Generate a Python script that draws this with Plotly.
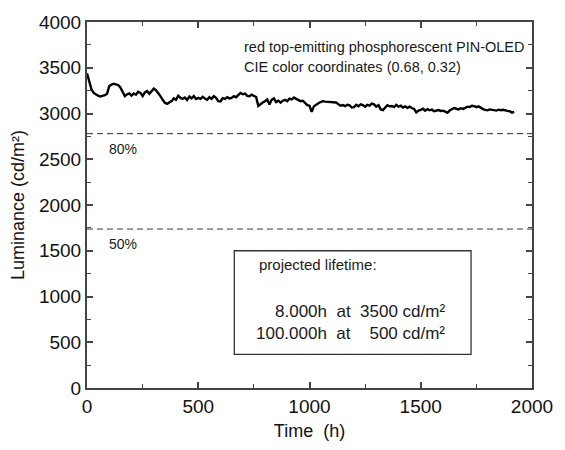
import plotly.graph_objects as go

# sampling times (h), one reading every 10 h
time_h = list(range(0, 1930, 10))
luminance = [
    3440, 3335, 3265, 3225, 3205, 3195, 3185, 3192, 3200, 3215,
    3300, 3315, 3325, 3318, 3310, 3285, 3240, 3190, 3210, 3220,
    3195, 3218, 3205, 3238, 3225, 3190, 3230, 3245, 3215, 3250,
    3272, 3255, 3228, 3190, 3150, 3118, 3106, 3122, 3135, 3165,
    3150, 3195, 3170, 3160, 3175, 3148, 3185, 3165, 3190, 3158,
    3170, 3160, 3182, 3165, 3150, 3178, 3160, 3190, 3170, 3135,
    3132, 3168, 3160, 3178, 3165, 3170, 3190, 3178, 3200, 3225,
    3210, 3218, 3192, 3188, 3205, 3195, 3180, 3082, 3105, 3120,
    3135, 3155, 3098, 3150, 3165, 3125, 3140, 3118, 3140, 3150,
    3135, 3162, 3155, 3175, 3160, 3148, 3135, 3140, 3110, 3092,
    3085, 3018, 3080, 3100, 3112, 3125, 3135, 3130, 3128, 3120,
    3125, 3115, 3120, 3100, 3085, 3092, 3080, 3095, 3090, 3065,
    3070, 3095, 3080, 3100, 3092, 3075, 3095, 3085, 3108, 3100,
    3075, 3090, 3045, 3038, 3065, 3090, 3078, 3082, 3070, 3095,
    3075, 3085, 3065, 3078, 3062, 3075, 3060, 3050, 3012, 3032,
    3040, 3052, 3030, 3048, 3035, 3042, 3025, 3030, 3038, 3028,
    3030, 3020, 3008, 3032, 3048, 3060, 3052, 3045, 3058, 3050,
    3062, 3075, 3070, 3085, 3080, 3070, 3078, 3060, 3048, 3040,
    3035, 3045, 3040, 3038, 3032, 3042, 3036, 3040, 3030, 3028,
    3025, 3010, 3018,
]

level_80 = 2780
level_50 = 1737
level_labels = ["80%", "50%"]
x_ticks = [0, 500, 1000, 1500, 2000]
y_ticks = [0, 500, 1000, 1500, 2000, 2500, 3000, 3500, 4000]

FONT = "Liberation Sans, Arial, sans-serif"
TXT = "#1a1a1a"
NB = "\u00a0"

fig = go.Figure()
fig.add_trace(go.Scatter(x=time_h, y=luminance, mode="lines",
                         line=dict(color="black", width=2.4), showlegend=False))

for lv in (level_80, level_50):
    fig.add_shape(type="line", xref="paper", x0=0, x1=1, yref="y", y0=lv, y1=lv,
                  line=dict(color="#333", width=1, dash="6px,4px"))

for lv, lab in zip((level_80, level_50), level_labels):
    fig.add_annotation(x=0.046, xref="paper", y=lv, yref="y", yshift=-15, text=lab,
                       showarrow=False, xanchor="left", yanchor="middle",
                       font=dict(size=14, color=TXT, family=FONT))

fig.add_annotation(x=0.349, xref="paper", y=0.932, yref="paper",
                   text="red top-emitting phosphorescent PIN-OLED",
                   showarrow=False, xanchor="left", yanchor="middle",
                   font=dict(size=14.5, color=TXT, family=FONT))
fig.add_annotation(x=0.349, xref="paper", y=0.878, yref="paper",
                   text="CIE color coordinates (0.68, 0.32)",
                   showarrow=False, xanchor="left", yanchor="middle",
                   font=dict(size=14.5, color=TXT, family=FONT))

# lifetime box
fig.add_shape(type="rect", xref="x", yref="y", x0=662, x1=1726, y0=368, y1=1500,
              line=dict(color="#333", width=1.3), fillcolor="white")
fig.add_annotation(x=0.382, xref="paper", y=0.338, yref="paper", text="projected lifetime:",
                   showarrow=False, xanchor="left", yanchor="middle",
                   font=dict(size=15, color=TXT, family=FONT))
fig.add_annotation(x=0.808, xref="paper", y=0.208, yref="paper",
                   text="8.000h" + NB * 2 + "at" + NB * 2 + "3500 cd/m²",
                   showarrow=False, xanchor="right", yanchor="middle",
                   font=dict(size=17, color=TXT, family=FONT))
fig.add_annotation(x=0.808, xref="paper", y=0.149, yref="paper",
                   text="100.000h" + NB * 2 + "at" + NB * 4 + "500 cd/m²",
                   showarrow=False, xanchor="right", yanchor="middle",
                   font=dict(size=17, color=TXT, family=FONT))

axis_common = dict(showgrid=False, zeroline=False, showline=True, linecolor="#444", linewidth=2,
                   mirror="allticks", ticks="inside", ticklen=6, tickwidth=1.5, tickcolor="#444",
                   tickfont=dict(size=19, color="#111", family=FONT))

fig.update_xaxes(range=[0, 2000], tickvals=x_ticks, ticktext=[str(v) for v in x_ticks],
                 minor=dict(dtick=250, ticks="inside", ticklen=4, tickcolor="#444", tickwidth=1.2),
                 title=dict(text="Time" + NB * 2 + "(h)", font=dict(size=18, color="#111", family=FONT),
                            standoff=9),
                 **axis_common)
fig.update_yaxes(range=[0, 4000], tickvals=y_ticks, ticktext=[str(v) for v in y_ticks],
                 minor=dict(dtick=250, ticks="inside", ticklen=4, tickcolor="#444", tickwidth=1.2),
                 title=dict(text="Luminance (cd/m²)", font=dict(size=18, color="#111", family=FONT),
                            standoff=10),
                 **axis_common)

fig.update_layout(width=565, height=450, margin=dict(l=87, r=25, t=20, b=60),
                  paper_bgcolor="white", plot_bgcolor="white")

fig.write_html("out.html")
